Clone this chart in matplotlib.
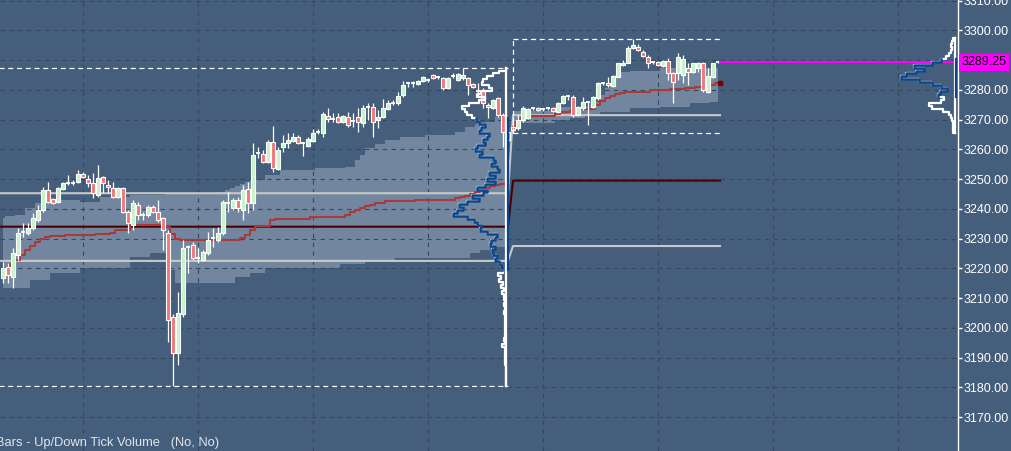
import numpy as np
import matplotlib.pyplot as plt
from matplotlib.patches import Rectangle
from matplotlib.transforms import blended_transform_factory

plt.rcParams['font.family'] = ['Liberation Sans', 'DejaVu Sans']

# ===== bars: session 1 = index 0..101, session 2 = index 102..143 =====
opens = [3216.75, 3220.5, 3217.0, 3224.5, 3232.25, 3232.0, 3233.5, 3236.25, 3239.5, 3246.25,
         3243.25, 3242.25, 3246.75, 3248.75, 3248.75, 3249.0, 3251.75, 3250.0, 3248.75, 3244.75,
         3250.75, 3248.0, 3247.0, 3244.0, 3247.0, 3239.0, 3234.5, 3241.25, 3238.0, 3238.0,
         3240.5, 3239.0, 3237.0, 3232.0, 3203.75, 3191.5, 3204.5, 3227.25, 3228.0, 3223.5,
         3222.75, 3225.25, 3230.25, 3229.5, 3232.0, 3242.0, 3240.25, 3243.0, 3239.5, 3246.75,
         3242.0, 3258.75, 3258.5, 3255.75, 3262.5, 3253.5, 3260.75, 3262.0, 3262.75, 3264.0,
         3262.0, 3261.0, 3262.75, 3265.75, 3265.5, 3271.25, 3270.25, 3270.75, 3269.25, 3270.75,
         3269.5, 3270.75, 3268.75, 3274.25, 3274.25, 3269.75, 3270.75, 3273.5, 3275.5, 3275.5,
         3278.25, 3282.25, 3282.25, 3282.0, 3283.0, 3283.25, 3285.0, 3284.25, 3284.0, 3280.5,
         3284.5, 3283.25, 3284.0, 3284.0, 3282.0, 3279.5, 3280.0, 3274.75, 3273.75, 3277.25,
         3271.5, 3265.75,
         3267.5, 3267.25, 3269.75, 3270.5, 3273.75, 3273.75, 3273.5, 3273.75, 3273.75, 3272.5,
         3275.5, 3278.0, 3277.5, 3271.5, 3273.75, 3275.75, 3274.25, 3277.25, 3282.25, 3282.25,
         3281.25, 3284.25, 3288.25, 3289.0, 3294.0, 3294.25, 3292.75, 3291.0, 3289.25, 3289.25,
         3288.0, 3289.75, 3285.5, 3285.5, 3285.0, 3287.25, 3286.0, 3287.25, 3289.0, 3279.25,
         3284.25, 3289.25]
highs = [3222.25, 3221.75, 3227.0, 3233.5, 3235.25, 3235.25, 3238.5, 3241.25, 3247.25, 3249.0,
         3243.5, 3247.25, 3249.0, 3251.5, 3249.75, 3253.0, 3252.5, 3251.5, 3252.0, 3254.75,
         3251.0, 3249.75, 3249.0, 3247.5, 3247.25, 3239.5, 3243.0, 3242.25, 3239.0, 3241.25,
         3241.25, 3243.0, 3237.25, 3233.0, 3204.5, 3212.0, 3229.5, 3228.0, 3229.0, 3227.0,
         3226.25, 3232.25, 3233.5, 3234.0, 3243.0, 3245.75, 3243.75, 3244.0, 3248.0, 3249.0,
         3262.0, 3260.75, 3259.75, 3263.0, 3267.75, 3260.75, 3264.75, 3265.5, 3265.5, 3264.75,
         3262.5, 3264.0, 3266.75, 3266.75, 3272.5, 3273.75, 3272.25, 3272.25, 3271.5, 3272.5,
         3272.25, 3273.75, 3274.75, 3275.5, 3275.5, 3273.25, 3277.0, 3276.5, 3276.5, 3279.25,
         3283.0, 3282.5, 3283.0, 3283.25, 3284.75, 3284.0, 3285.25, 3284.75, 3284.25, 3284.25,
         3285.5, 3285.5, 3287.25, 3284.25, 3282.25, 3282.25, 3280.5, 3275.5, 3277.0, 3277.5,
         3272.25, 3267.5,
         3270.75, 3271.5, 3274.5, 3274.0, 3274.25, 3274.25, 3274.0, 3274.25, 3274.25, 3275.75,
         3278.25, 3278.25, 3278.25, 3274.5, 3277.5, 3276.0, 3278.0, 3282.5, 3282.75, 3284.25,
         3285.0, 3289.0, 3290.0, 3294.75, 3297.0, 3295.25, 3293.25, 3291.75, 3289.75, 3289.75,
         3290.0, 3290.75, 3286.0, 3292.25, 3291.75, 3289.0, 3289.0, 3289.25, 3289.25, 3287.25,
         3289.0, 3289.75]
lows = [3215.0, 3215.0, 3213.5, 3222.75, 3230.5, 3231.25, 3233.0, 3235.5, 3239.0, 3242.0,
        3241.75, 3242.0, 3246.25, 3248.0, 3248.0, 3248.75, 3250.5, 3247.25, 3243.75, 3244.0,
        3245.25, 3245.25, 3243.75, 3243.75, 3238.5, 3232.0, 3233.0, 3236.25, 3236.25, 3237.25,
        3238.75, 3235.5, 3226.25, 3195.25, 3180.5, 3187.5, 3203.75, 3218.5, 3222.75, 3221.75,
        3222.5, 3224.5, 3227.25, 3229.0, 3231.25, 3239.0, 3239.5, 3239.0, 3236.25, 3238.5,
        3239.5, 3257.0, 3255.5, 3255.5, 3252.5, 3253.0, 3259.0, 3260.5, 3262.5, 3261.75,
        3257.75, 3260.75, 3262.5, 3265.0, 3264.0, 3269.25, 3269.25, 3268.75, 3269.0, 3267.5,
        3267.5, 3265.75, 3267.5, 3269.75, 3264.0, 3267.25, 3270.5, 3273.25, 3274.75, 3274.75,
        3277.5, 3281.0, 3281.0, 3281.5, 3282.5, 3282.75, 3283.5, 3283.75, 3280.0, 3280.25,
        3284.0, 3283.0, 3283.25, 3278.25, 3280.5, 3277.5, 3273.75, 3270.5, 3273.5, 3270.75,
        3260.75, 3262.5,
        3265.5, 3266.5, 3269.25, 3270.25, 3273.25, 3273.0, 3273.0, 3273.25, 3272.5, 3272.25,
        3275.25, 3276.5, 3270.75, 3271.25, 3273.25, 3268.25, 3274.0, 3276.5, 3281.75, 3281.0,
        3281.0, 3284.25, 3288.0, 3289.0, 3293.75, 3293.0, 3291.0, 3287.5, 3288.75, 3288.0,
        3287.75, 3283.25, 3275.5, 3283.25, 3282.25, 3281.5, 3285.5, 3286.0, 3279.25, 3279.0,
        3284.0, 3289.0]
closes = [3220.25, 3217.75, 3225.25, 3232.0, 3232.25, 3233.5, 3237.0, 3239.5, 3246.25, 3242.25,
          3242.0, 3247.0, 3248.75, 3248.75, 3248.75, 3251.75, 3250.75, 3248.75, 3245.25, 3250.5,
          3248.75, 3247.25, 3244.0, 3247.0, 3239.0, 3235.25, 3242.0, 3238.0, 3238.0, 3240.5,
          3239.0, 3236.25, 3233.0, 3202.75, 3191.5, 3205.0, 3227.0, 3227.25, 3223.5, 3223.5,
          3225.5, 3229.5, 3230.25, 3232.0, 3242.25, 3242.0, 3243.0, 3240.25, 3246.25, 3242.0,
          3258.0, 3258.75, 3255.75, 3262.5, 3253.75, 3259.75, 3262.0, 3263.0, 3264.0, 3262.0,
          3262.0, 3263.5, 3265.5, 3265.75, 3271.75, 3270.25, 3270.25, 3269.25, 3271.25, 3268.25,
          3269.5, 3269.25, 3273.75, 3274.25, 3269.25, 3270.75, 3273.75, 3275.5, 3275.5, 3278.0,
          3281.5, 3282.25, 3282.25, 3283.0, 3284.25, 3283.25, 3284.0, 3284.25, 3280.5, 3284.0,
          3284.5, 3285.25, 3285.0, 3281.5, 3281.0, 3279.5, 3275.5, 3274.25, 3276.5, 3271.5,
          3265.75, 3263.0,
          3266.5, 3269.75, 3273.75, 3273.5, 3273.75, 3273.25, 3273.5, 3273.75, 3272.75, 3275.5,
          3278.0, 3278.0, 3271.5, 3274.25, 3275.75, 3275.75, 3277.5, 3282.25, 3282.25, 3281.5,
          3284.5, 3289.0, 3289.0, 3294.0, 3295.0, 3293.25, 3291.25, 3289.0, 3289.25, 3288.25,
          3289.75, 3285.5, 3282.5, 3291.0, 3290.25, 3286.0, 3289.0, 3289.0, 3280.0, 3284.5,
          3289.0, 3289.25]

# ===== developing VWAP and its band, per bar =====
vwap_s1 = [3218.75, 3220.25, 3221.5, 3222.75, 3224.5, 3226.25, 3227.5, 3229.0, 3230.0, 3230.5,
           3231.0, 3231.0, 3231.0, 3231.25, 3231.25, 3231.25, 3231.25, 3231.25, 3231.25, 3231.5,
           3231.5, 3231.5, 3231.75, 3233.0, 3233.0, 3233.0, 3234.5, 3234.5, 3234.5, 3234.5,
           3234.5, 3234.5, 3234.5, 3234.0, 3231.5, 3230.0, 3229.5, 3229.5, 3229.5, 3229.5,
           3229.5, 3229.5, 3229.5, 3229.5, 3229.5, 3229.5, 3229.5, 3229.5, 3230.25, 3231.25,
           3233.0, 3234.25, 3234.25, 3234.25, 3236.25, 3236.5, 3236.5, 3236.5, 3236.5, 3236.5,
           3236.5, 3236.5, 3237.25, 3237.25, 3237.25, 3237.25, 3237.25, 3237.25, 3237.25, 3238.0,
           3239.0, 3239.5, 3240.25, 3241.0, 3241.25, 3242.0, 3242.0, 3242.75, 3242.75, 3242.75,
           3242.75, 3242.75, 3242.75, 3243.0, 3243.0, 3243.0, 3243.0, 3243.0, 3243.0, 3243.0,
           3243.0, 3243.75, 3244.0, 3244.25, 3245.0, 3245.75, 3246.25, 3247.0, 3247.75, 3248.0,
           3248.25, 3248.75]
vwap_s2 = [3267.5, 3269.25, 3270.5, 3271.25, 3271.25, 3271.25, 3271.25, 3271.25, 3271.25, 3271.75,
           3272.5, 3272.5, 3273.25, 3273.5, 3273.5, 3273.5, 3273.5, 3274.75, 3276.25, 3277.25,
           3278.0, 3278.5, 3279.0, 3279.25, 3279.25, 3279.25, 3279.25, 3279.25, 3280.0, 3280.0,
           3280.0, 3280.0, 3280.25, 3280.25, 3280.25, 3280.5, 3280.5, 3281.0, 3281.0, 3281.5,
           3281.5, 3282.25]
band_hi_s1 = [3237.0, 3237.5, 3237.5, 3238.0, 3238.0, 3240.25, 3240.25, 3242.0, 3242.0, 3243.0,
              3243.0, 3243.0, 3243.0, 3243.0, 3243.0, 3243.0, 3242.25, 3242.25, 3242.25, 3242.25,
              3244.0, 3244.0, 3244.0, 3244.0, 3244.0, 3244.0, 3244.75, 3244.75, 3244.75, 3244.75,
              3244.75, 3244.75, 3244.75, 3245.0, 3245.0, 3245.0, 3245.0, 3245.0, 3245.0, 3245.0,
              3245.0, 3245.0, 3245.0, 3245.0, 3245.75, 3246.25, 3247.0, 3247.75, 3248.25, 3249.0,
              3249.75, 3249.75, 3249.75, 3251.5, 3251.5, 3251.5, 3253.0, 3253.0, 3253.0, 3253.0,
              3253.0, 3253.0, 3253.0, 3253.75, 3253.75, 3253.75, 3253.75, 3253.75, 3253.75, 3254.0,
              3254.0, 3256.5, 3258.0, 3260.5, 3260.5, 3261.75, 3261.75, 3263.0, 3263.0, 3263.0,
              3264.0, 3264.0, 3264.0, 3264.0, 3264.0, 3264.75, 3264.75, 3264.75, 3264.75, 3264.75,
              3264.75, 3265.75, 3265.75, 3267.5, 3267.5, 3268.5, 3268.5, 3269.25, 3269.25, 3270.75,
              3270.75, 3271.5]
band_lo_s1 = [3213.5, 3213.5, 3213.5, 3213.5, 3213.5, 3213.5, 3216.0, 3216.0, 3216.0, 3216.0,
              3218.5, 3218.5, 3218.5, 3218.5, 3218.5, 3218.5, 3220.25, 3220.25, 3220.25, 3220.25,
              3220.25, 3220.25, 3220.25, 3220.25, 3220.25, 3220.25, 3223.75, 3223.75, 3223.75, 3223.75,
              3225.25, 3225.25, 3225.25, 3225.25, 3219.5, 3215.0, 3215.0, 3215.0, 3215.0, 3215.0,
              3215.0, 3215.0, 3215.0, 3215.0, 3215.0, 3215.0, 3215.0, 3217.25, 3217.25, 3217.25,
              3218.5, 3218.5, 3218.5, 3220.25, 3220.25, 3220.25, 3220.25, 3220.25, 3220.25, 3220.25,
              3220.25, 3220.25, 3220.25, 3220.25, 3220.25, 3220.25, 3220.25, 3220.25, 3221.5, 3221.5,
              3221.5, 3221.5, 3221.5, 3222.25, 3222.25, 3222.25, 3222.25, 3222.25, 3222.25, 3223.5,
              3223.5, 3223.5, 3223.5, 3223.5, 3223.5, 3223.5, 3223.5, 3223.5, 3223.5, 3223.5,
              3223.5, 3223.5, 3223.5, 3223.5, 3225.25, 3225.25, 3226.25, 3226.25, 3227.25, 3227.25,
              3227.25, 3227.25]
band_hi_s2 = [3272.75, 3272.75, 3272.75, 3272.75, 3272.75, 3272.75, 3272.75, 3272.75, 3272.75, 3274.25,
              3274.25, 3274.25, 3274.25, 3274.25, 3274.25, 3274.25, 3275.75, 3275.75, 3278.25, 3280.5,
              3282.0, 3285.0, 3286.0, 3286.0, 3286.5, 3286.5, 3286.5, 3286.5, 3286.5, 3286.5,
              3287.25, 3287.25, 3287.25, 3287.25, 3287.25, 3287.25, 3287.25, 3287.25, 3287.25, 3287.25,
              3287.25, 3287.25]
band_lo_s2 = [3268.75, 3268.75, 3268.75, 3268.75, 3268.75, 3268.75, 3268.75, 3268.75, 3268.75, 3269.75,
              3269.75, 3269.75, 3270.5, 3270.5, 3270.5, 3271.5, 3271.5, 3271.5, 3272.5, 3272.5,
              3272.5, 3272.5, 3272.5, 3272.5, 3273.75, 3273.75, 3273.75, 3273.75, 3273.75, 3273.75,
              3274.25, 3274.25, 3274.25, 3274.25, 3274.25, 3274.25, 3275.5, 3275.5, 3275.5, 3275.5,
              3275.75, 3275.75]

# prior-session levels: [during session 1, during session 2]
prior_poc = [3234.0, 3249.5]
prior_vah = [3245.25, 3271.5]
prior_val = [3222.5, 3227.5]

# session ranges (high, low)
sess1_range = (3287.25, 3180.5)
sess2_range = (3297.0, 3265.5)
last_price = 3289.25

# volume profiles (1 point levels, relative volume)
prof1_levels = list(range(3287, 3180, -1))
prof1_vol = [1, 8, 14, 20, 24, 25, 18, 15, 26, 30, 22, 28, 38, 45, 42, 40, 35, 31, 28, 22,
             26, 28, 18, 20, 24, 22, 30, 32, 25, 28, 14, 12, 16, 10, 8, 18, 12, 20, 12, 22,
             30, 20, 24, 35, 28, 40, 48, 44, 50, 54, 40, 33, 30, 26, 27, 20, 10, 12, 16, 17,
             12, 15, 14, 10, 12, 8, 6, 5, 4, 9, 6, 8, 4, 6, 3, 5, 3, 3, 2, 3,
             2, 2, 3, 2, 2, 2, 2, 2, 2, 2, 2, 3, 2, 5, 2, 2, 2, 2, 2, 2,
             1, 1, 1, 1, 1, 1, 1]
prof1_va = (3220, 3270)
prof2_levels = list(range(3297, 3265, -1))
prof2_vol = [2, 3, 4, 3, 4, 6, 9, 14, 22, 40, 30, 38, 48, 52, 35, 22, 14, 8, 15, 17,
             11, 14, 25, 22, 12, 6, 4, 3, 2, 2, 2, 2]
prof2_va = (3278, 3290)

grid_x = [16.1, 39.1, 62.1, 85.1, 108.1, 131.1, 154.1, 179.0]

BG = '#455e7c'
BAND = '#72879f'
GRID = '#34485f'
BLUE = '#0d4688'

fig = plt.figure(figsize=(10.12, 4.51), dpi=100)
fig.patch.set_facecolor(BG)
ax = fig.add_axes([0, 0, 958 / 1012, 1])
ax.set_facecolor(BG)
ax.set_xlim(-0.6, 191.0)
ax.set_ylim(3158.6, 3310.2)

n1 = len(vwap_s1)
x1 = np.arange(n1)
x2 = np.arange(n1, n1 + len(vwap_s2))

# band
ax.fill_between(x1, band_lo_s1, band_hi_s1, step='mid', color=BAND, lw=0, zorder=1)
ax.fill_between(x2, band_lo_s2, band_hi_s2, step='mid', color=BAND, lw=0, zorder=1)

# grid
for p in range(3170, 3311, 10):
    ax.axhline(p, color=GRID, lw=0.8, ls=(0, (4, 4)), zorder=2)
for gx in grid_x:
    ax.axvline(gx, color=GRID, lw=0.8, ls=(0, (4, 4)), zorder=2)

# prior session levels
xe = [-1, n1 - 1, n1, x2[-1] + 0.4]
def level_line(vals, color):
    ax.plot(xe, [vals[0], vals[0], vals[1], vals[1]], color=color, lw=1.5, zorder=3)
level_line(prior_vah, '#c8c8c8')
level_line(prior_val, '#c8c8c8')
level_line(prior_poc, '#4a0000')

# vwap
ax.plot(x1, vwap_s1, color='#aa3a3a', lw=1.5, drawstyle='steps-mid', zorder=4)
ax.plot(x2, vwap_s2, color='#aa3a3a', lw=1.5, drawstyle='steps-mid', zorder=4)
ax.plot(x2[-1] + 0.4, vwap_s2[-1], 's', color='#7a0000', ms=2.5, zorder=4)

# candles
for i, (o, h, l, c) in enumerate(zip(opens, highs, lows, closes)):
    ax.vlines(i, l, h, color='white', lw=0.9, zorder=5)
    if c == o:
        ax.hlines(o, i - 0.4, i + 0.4, color='white', lw=1.3, zorder=6)
    else:
        fc = '#c9f3c9' if c > o else '#f27878'
        ax.add_patch(Rectangle((i - 0.35, min(o, c)), 0.7, abs(c - o),
                               fc=fc, ec='white', lw=0.8, zorder=6))

# session boxes
box = dict(color='white', lw=0.9, ls=(0, (4, 3)), zorder=7)
ax.hlines(sess1_range, -1, n1 - 1, **box)
ax.hlines(sess2_range, n1, x2[-1] + 0.4, **box)
ax.vlines(n1, sess2_range[1], sess2_range[0], **box)

# last price line
ax.hlines(last_price, x2[-1] + 0.2, 191.0, color='#ff00ff', lw=1.5, zorder=7)

def draw_profile(levels, vols, anchor, va, max_w=10.7):
    levels = np.asarray(levels, float)
    vols = np.asarray(vols, float)
    order = np.argsort(levels)
    levels, vols = levels[order], vols[order]
    xs = anchor - vols / vols.max() * max_w
    xx = np.repeat(xs, 2)
    yy = np.column_stack([levels - 0.5, levels + 0.5]).ravel()
    ax.plot(np.r_[anchor, xx, anchor], np.r_[yy[0], yy, yy[-1]],
            color='white', lw=1.6, zorder=8)
    inva = np.repeat((levels >= va[0]) & (levels <= va[1]), 2)
    ax.plot(xx[inva], yy[inva], color=BLUE, lw=1.8, zorder=9)
    ax.plot([anchor, anchor], [yy[0], yy[-1]], color='white', lw=1.6, zorder=8)
    ax.plot([anchor + 0.3, anchor + 0.3], [va[0] - 0.5, va[1] + 0.5], color=BLUE, lw=1.6, zorder=9)

draw_profile(prof1_levels, prof1_vol, 100.7, prof1_va)
draw_profile(prof2_levels, prof2_vol, 190.4, prof2_va)

# price axis on the right
ax.set_xticks([])
ticks = list(range(3170, 3311, 10))
ax.yaxis.tick_right()
ax.set_yticks(ticks)
ax.set_yticklabels(['' if t == 3290 else f'{t:.2f}' for t in ticks],
                   fontsize=9, color='white')
ax.tick_params(axis='y', direction='out', length=3, width=1, color='white', pad=1)
for s in ['left', 'top', 'bottom']:
    ax.spines[s].set_visible(False)
ax.spines['right'].set_color('white')
ax.spines['right'].set_linewidth(1.0)

tr = blended_transform_factory(ax.transAxes, ax.transData)
ax.text(1.004, last_price, f'{last_price:.2f}', transform=tr, ha='left', va='center',
        fontsize=9, color='black', zorder=10, clip_on=False,
        bbox=dict(boxstyle='square,pad=0.2', fc='#ff00ff', ec='none'))

fig.text(-4 / 1012, 2 / 451, 'Bars - Up/Down Tick Volume   (No, No)', ha='left', va='bottom',
         fontsize=9.3, color='#e2e6ec')

fig.savefig('out.png', dpi=100, facecolor=BG)
